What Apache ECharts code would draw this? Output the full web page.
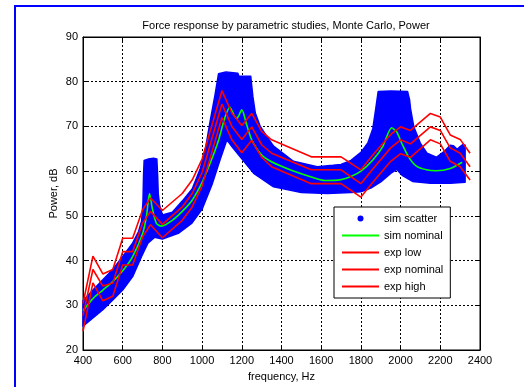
<!DOCTYPE html>
<html>
<head>
<meta charset="utf-8">
<script src="https://cdn.jsdelivr.net/npm/echarts@6/dist/echarts.min.js"></script>
<style>
html,body{margin:0;padding:0;background:#fff;}
#chart{width:524px;height:387px;}
</style>
</head>
<body>
<div id="chart"></div>
<script>
// ---------- data ----------
const xTicks = [400, 600, 800, 1000, 1200, 1400, 1600, 1800, 2000, 2200, 2400];
const yTicks = [20, 30, 40, 50, 60, 70, 80, 90];

// simulated scatter cloud: upper and lower envelope (Hz, dB)
const bandUpperFreq = [400,450,500,550,600,650,680,695,702,705,708,730,755,772,776,779,786,800,850,900,950,990,1015,1040,1065,1083,1120,1180,1185,1245,1250,1256,1268,1293,1330,1360,1460,1580,1660,1700,1750,1800,1835,1860,1875,1887,1950,2035,2045,2050,2066,2100,2133,2180,2217,2250,2265,2285,2300,2315,2325];
const bandUpper     = [31.0,33.4,35.7,38.0,40.9,43.9,46.5,48.8,53,59,62.4,62.7,62.9,62.7,59,55,52.3,50.2,50.8,53.3,56,60.5,64.5,71,77,81.8,82.2,81.9,81.3,81.2,79,76.6,73,70,67.5,65.6,62.2,61,61.3,61.5,62.4,64.2,66.3,69.5,74,77.8,77.9,77.8,76,74,70,66.2,64,63.1,64.3,65.8,65.7,64.9,65.5,66,65.8];
const bandLowerFreq = [400,450,500,550,600,650,695,727,760,800,880,947,1000,1050,1090,1125,1150,1192,1260,1360,1500,1630,1750,1800,1850,1900,1950,1980,2010,2060,2150,2250,2325];
const bandLower     = [25.3,27.2,29,31.2,33.4,36.4,40.9,43.9,45.2,44.8,46.1,48.3,51.5,57,62.5,67,65.5,63.2,59.5,56.5,55.2,55,55.2,55.4,56.2,57.6,59.5,60.4,59,57.7,57.3,57.3,57.5];

// simulated nominal curve
const simFreq    = [400,450,500,550,600,650,700,720,735,750,770,795,850,900,950,1000,1040,1080,1115,1140,1160,1175,1200,1225,1250,1300,1350,1450,1550,1620,1700,1750,1800,1860,1910,1955,1980,2005,2040,2080,2130,2180,2250,2310];
const simNominal = [28.8,31.5,33.4,35.3,37.7,40.9,46,50,55,51.5,48.3,47.7,49,51,53.5,57.5,61.7,66.5,72,74.3,72.6,71.8,73.7,70.3,67,63.6,62.1,60.2,58.7,57.9,58.1,58.8,60,62.5,65.5,69.7,68.8,66.3,63.2,61.1,60.3,60.1,60.6,62];

// experimental lines
const expFreq    = [400,450,500,550,600,650,700,740,800,900,950,1000,1100,1150,1200,1250,1300,1350,1550,1700,1800,1860,1950,2000,2050,2150,2200,2250,2300,2350];
const expLow     = [24.2,35,31,32,39,39,45.3,48,45.1,49,52,56.7,72,67,64.1,66.9,63.1,61,57.2,57.2,54.2,57.5,62.2,63.9,63.1,67,66.1,62.2,61,58];
const expNominal = [27.7,38,34.3,35,42,42,48.3,51,48.1,52,55,59.7,75,70,67.1,69.9,65.9,64,60.3,60.3,57.2,60.5,65.2,67,66.1,69.9,69.1,65.2,64,61];
const expHigh    = [30.4,41,37,38,45,45,51.3,54,51.2,55,58,62.7,78,73,70.2,72.9,68.9,67,63.2,63.2,60.3,63.6,68.2,69.9,69.1,72.9,72.1,68.1,67.1,64];

const FONT = "'Liberation Sans', Arial, sans-serif";
const pairs = (xs, ys) => xs.map((x, i) => [x, ys[i]]);

const chart = echarts.init(document.getElementById('chart'), null, {renderer: 'canvas'});

const gridLine = {show: true, lineStyle: {color: '#000', type: [2, 2], width: 1}};
const lineIcon = 'path://M0,0H40V2.2H0Z';

chart.setOption({
  animation: false,
  backgroundColor: '#fff',
  title: {
    text: 'Force response by parametric studies, Monte Carlo, Power',
    left: 281, top: 15, textAlign: 'center',
    textStyle: {fontFamily: FONT, fontSize: 11, fontWeight: 'normal', color: '#000'}
  },
  graphic: [{
    type: 'rect', shape: {x: 15, y: 6, width: 700, height: 600},
    style: {fill: 'none', stroke: '#0000ff', lineWidth: 2}, silent: true, z: 100
  }],
  grid: {left: 83, top: 37, width: 397, height: 313, show: true, borderColor: '#000', borderWidth: 1, backgroundColor: '#fff'},
  legend: {
    left: 334, top: 207, orient: 'vertical',
    padding: [6, 7, 6, 8], itemGap: 6, itemWidth: 37, itemHeight: 6,
    backgroundColor: '#fff', borderColor: '#000', borderWidth: 1,
    selectedMode: false,
    textStyle: {fontFamily: FONT, fontSize: 11, color: '#000'},
    data: [
      {name: 'sim scatter', icon: 'circle'},
      {name: 'sim nominal', icon: lineIcon},
      {name: 'exp low', icon: lineIcon},
      {name: 'exp nominal', icon: lineIcon},
      {name: 'exp high', icon: lineIcon}
    ]
  },
  xAxis: [{
    type: 'value', min: xTicks[0], max: xTicks[xTicks.length - 1], interval: 200,
    name: 'frequency, Hz', nameLocation: 'middle', nameGap: 21,
    nameTextStyle: {fontFamily: FONT, fontSize: 11, color: '#000'},
    axisLine: {lineStyle: {color: '#000'}},
    axisTick: {inside: true, length: 4, lineStyle: {color: '#000'}},
    axisLabel: {fontFamily: FONT, fontSize: 11, color: '#000', margin: 5, formatter: v => String(v)},
    splitLine: gridLine
  }, {
    type: 'value', position: 'top', min: xTicks[0], max: xTicks[xTicks.length - 1], interval: 200,
    axisLine: {show: true, lineStyle: {color: '#000'}},
    axisTick: {inside: true, length: 4, lineStyle: {color: '#000'}},
    axisLabel: {show: false}, splitLine: {show: false}
  }],
  yAxis: [{
    type: 'value', min: yTicks[0], max: yTicks[yTicks.length - 1], interval: 10,
    name: 'Power, dB', nameLocation: 'middle', nameGap: 24, nameMoveOverlap: false,
    nameTextStyle: {fontFamily: FONT, fontSize: 11, color: '#000'},
    axisLine: {show: true, lineStyle: {color: '#000'}},
    axisTick: {show: true, inside: true, length: 4, lineStyle: {color: '#000'}},
    axisLabel: {fontFamily: FONT, fontSize: 11, color: '#000', margin: 5, formatter: v => String(v)},
    splitLine: gridLine
  }, {
    type: 'value', position: 'right', min: yTicks[0], max: yTicks[yTicks.length - 1], interval: 10,
    axisLine: {show: true, lineStyle: {color: '#000'}},
    axisTick: {show: true, inside: true, length: 4, lineStyle: {color: '#000'}},
    axisLabel: {show: false}, splitLine: {show: false}
  }],
  series: [
    {
      name: 'sim scatter', type: 'custom', xAxisIndex: 0, yAxisIndex: 0,
      itemStyle: {color: '#0000ff'}, z: 1,
      data: pairs(bandUpperFreq, bandUpper),
      renderItem: function (params, api) {
        if (params.dataIndex !== 0) return null;
        const pts = [];
        for (let i = 0; i < bandUpperFreq.length; i++) pts.push(api.coord([bandUpperFreq[i], bandUpper[i]]));
        for (let i = bandLowerFreq.length - 1; i >= 0; i--) pts.push(api.coord([bandLowerFreq[i], bandLower[i]]));
        return {type: 'polygon', shape: {points: pts}, style: {fill: '#0000ff', stroke: '#0000ff', lineWidth: 1.5, lineJoin: 'round'}};
      }
    },
    {name: 'sim nominal', type: 'line', data: pairs(simFreq, simNominal), smooth: 0.25, showSymbol: false,
     lineStyle: {color: '#00ff00', width: 1.6}, itemStyle: {color: '#00ff00'}, z: 3},
    {name: 'exp low', type: 'line', data: pairs(expFreq, expLow), showSymbol: false,
     lineStyle: {color: '#ff0000', width: 1.6}, itemStyle: {color: '#ff0000'}, z: 4},
    {name: 'exp nominal', type: 'line', data: pairs(expFreq, expNominal), showSymbol: false,
     lineStyle: {color: '#ff0000', width: 1.6}, itemStyle: {color: '#ff0000'}, z: 4},
    {name: 'exp high', type: 'line', data: pairs(expFreq, expHigh), showSymbol: false,
     lineStyle: {color: '#ff0000', width: 1.6}, itemStyle: {color: '#ff0000'}, z: 4}
  ]
});
</script>
</body>
</html>
